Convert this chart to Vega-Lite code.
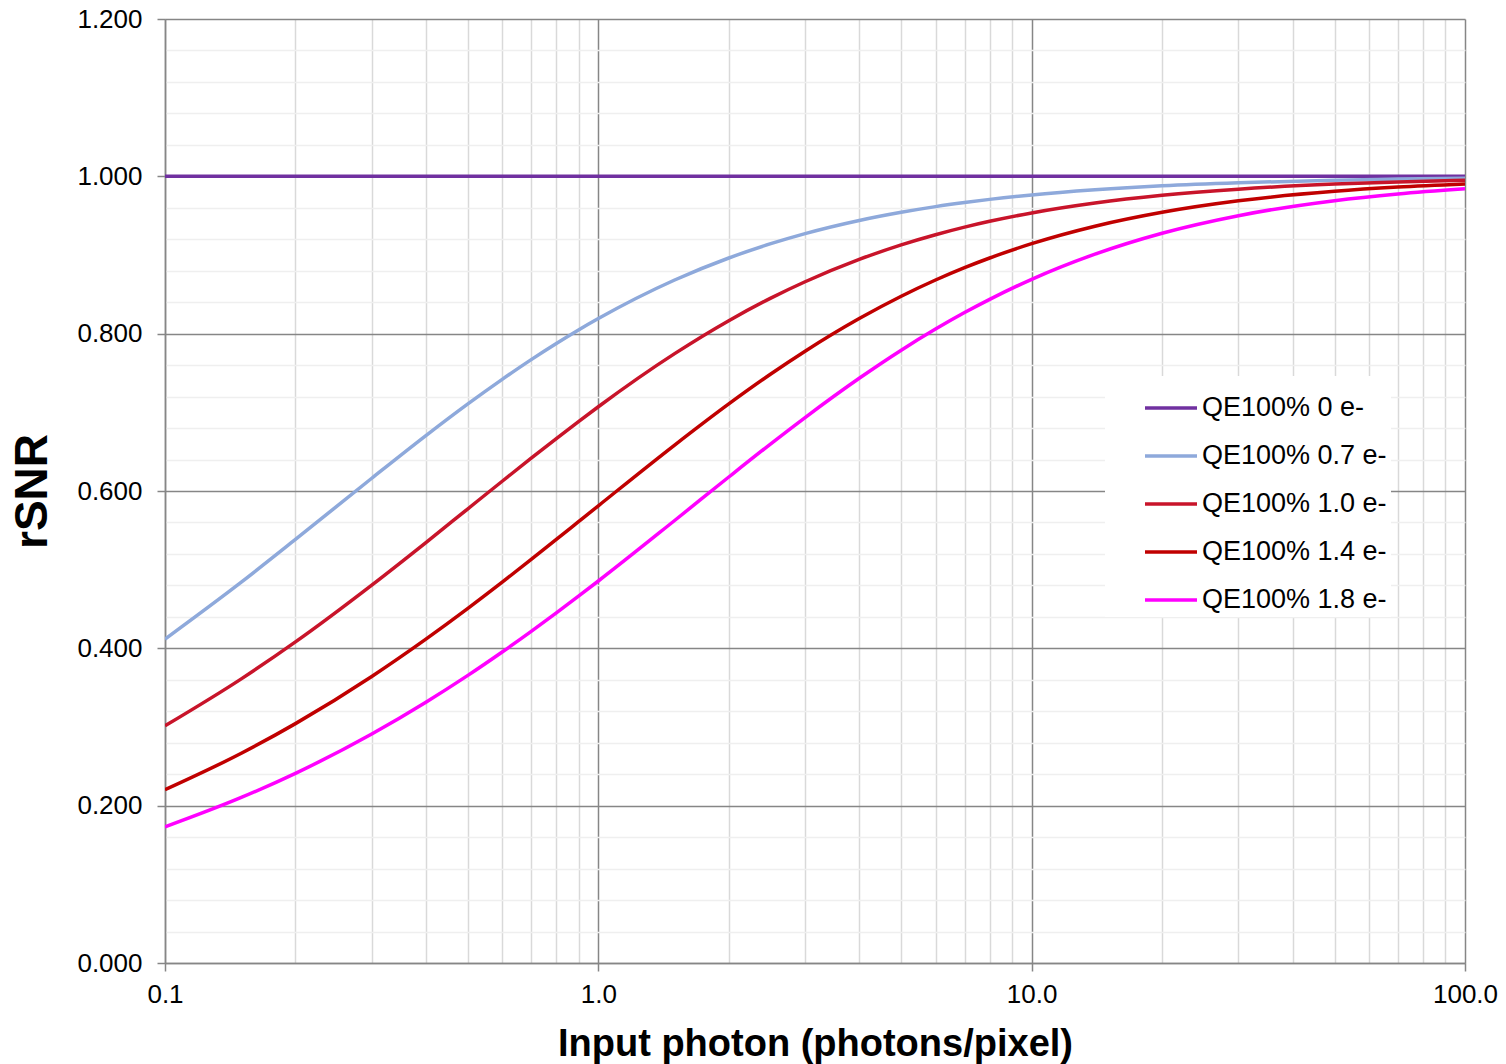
{
  "$schema": "https://vega.github.io/schema/vega-lite/v6.json",
  "autosize": {"type": "none"},
  "width": 1300,
  "height": 944,
  "padding": {"left": 165, "top": 19, "right": 41, "bottom": 101},
  "background": "white",
  "config": {
    "view": {"stroke": null},
    "font": "Liberation Sans",
    "axis": {"labelFont": "Liberation Sans", "titleFont": "Liberation Sans", "labelColor": "black", "titleColor": "black"}
  },
  "data": {
    "values": [
      {"x": 0.1, "s": "QE100% 0 e-", "y": 1.0},
      {"x": 1, "s": "QE100% 0 e-", "y": 1.0},
      {"x": 10, "s": "QE100% 0 e-", "y": 1.0},
      {"x": 100, "s": "QE100% 0 e-", "y": 1.0},

      {"x": 0.1, "s": "QE100% 0.7 e-", "y": 0.4117},
      {"x": 0.15, "s": "QE100% 0.7 e-", "y": 0.4841},
      {"x": 0.2, "s": "QE100% 0.7 e-", "y": 0.5384},
      {"x": 0.3, "s": "QE100% 0.7 e-", "y": 0.6162},
      {"x": 0.4, "s": "QE100% 0.7 e-", "y": 0.6704},
      {"x": 0.5, "s": "QE100% 0.7 e-", "y": 0.7107},
      {"x": 0.6, "s": "QE100% 0.7 e-", "y": 0.7419},
      {"x": 0.7, "s": "QE100% 0.7 e-", "y": 0.767},
      {"x": 0.8, "s": "QE100% 0.7 e-", "y": 0.7875},
      {"x": 0.9, "s": "QE100% 0.7 e-", "y": 0.8047},
      {"x": 1, "s": "QE100% 0.7 e-", "y": 0.8192},
      {"x": 1.5, "s": "QE100% 0.7 e-", "y": 0.8682},
      {"x": 2, "s": "QE100% 0.7 e-", "y": 0.8962},
      {"x": 2.5, "s": "QE100% 0.7 e-", "y": 0.9144},
      {"x": 3, "s": "QE100% 0.7 e-", "y": 0.9272},
      {"x": 4, "s": "QE100% 0.7 e-", "y": 0.9439},
      {"x": 5, "s": "QE100% 0.7 e-", "y": 0.9543},
      {"x": 6, "s": "QE100% 0.7 e-", "y": 0.9615},
      {"x": 7, "s": "QE100% 0.7 e-", "y": 0.9667},
      {"x": 8, "s": "QE100% 0.7 e-", "y": 0.9707},
      {"x": 10, "s": "QE100% 0.7 e-", "y": 0.9764},
      {"x": 14, "s": "QE100% 0.7 e-", "y": 0.9829},
      {"x": 20, "s": "QE100% 0.7 e-", "y": 0.988},
      {"x": 30, "s": "QE100% 0.7 e-", "y": 0.9919},
      {"x": 50, "s": "QE100% 0.7 e-", "y": 0.9951},
      {"x": 70, "s": "QE100% 0.7 e-", "y": 0.9965},
      {"x": 100, "s": "QE100% 0.7 e-", "y": 0.9976},

      {"x": 0.1, "s": "QE100% 1.0 e-", "y": 0.3015},
      {"x": 0.15, "s": "QE100% 1.0 e-", "y": 0.3612},
      {"x": 0.2, "s": "QE100% 1.0 e-", "y": 0.4082},
      {"x": 0.3, "s": "QE100% 1.0 e-", "y": 0.4804},
      {"x": 0.4, "s": "QE100% 1.0 e-", "y": 0.5345},
      {"x": 0.5, "s": "QE100% 1.0 e-", "y": 0.5774},
      {"x": 0.6, "s": "QE100% 1.0 e-", "y": 0.6124},
      {"x": 0.7, "s": "QE100% 1.0 e-", "y": 0.6417},
      {"x": 0.8, "s": "QE100% 1.0 e-", "y": 0.6667},
      {"x": 0.9, "s": "QE100% 1.0 e-", "y": 0.6882},
      {"x": 1, "s": "QE100% 1.0 e-", "y": 0.7071},
      {"x": 1.5, "s": "QE100% 1.0 e-", "y": 0.7746},
      {"x": 2, "s": "QE100% 1.0 e-", "y": 0.8165},
      {"x": 2.5, "s": "QE100% 1.0 e-", "y": 0.8452},
      {"x": 3, "s": "QE100% 1.0 e-", "y": 0.866},
      {"x": 4, "s": "QE100% 1.0 e-", "y": 0.8944},
      {"x": 5, "s": "QE100% 1.0 e-", "y": 0.9129},
      {"x": 6, "s": "QE100% 1.0 e-", "y": 0.9258},
      {"x": 7, "s": "QE100% 1.0 e-", "y": 0.9354},
      {"x": 8, "s": "QE100% 1.0 e-", "y": 0.9428},
      {"x": 10, "s": "QE100% 1.0 e-", "y": 0.9535},
      {"x": 14, "s": "QE100% 1.0 e-", "y": 0.9661},
      {"x": 20, "s": "QE100% 1.0 e-", "y": 0.9759},
      {"x": 30, "s": "QE100% 1.0 e-", "y": 0.9837},
      {"x": 50, "s": "QE100% 1.0 e-", "y": 0.9901},
      {"x": 70, "s": "QE100% 1.0 e-", "y": 0.9929},
      {"x": 100, "s": "QE100% 1.0 e-", "y": 0.995},

      {"x": 0.1, "s": "QE100% 1.4 e-", "y": 0.2203},
      {"x": 0.15, "s": "QE100% 1.4 e-", "y": 0.2666},
      {"x": 0.2, "s": "QE100% 1.4 e-", "y": 0.3043},
      {"x": 0.3, "s": "QE100% 1.4 e-", "y": 0.3643},
      {"x": 0.4, "s": "QE100% 1.4 e-", "y": 0.4117},
      {"x": 0.5, "s": "QE100% 1.4 e-", "y": 0.4508},
      {"x": 0.6, "s": "QE100% 1.4 e-", "y": 0.4841},
      {"x": 0.7, "s": "QE100% 1.4 e-", "y": 0.513},
      {"x": 0.8, "s": "QE100% 1.4 e-", "y": 0.5384},
      {"x": 0.9, "s": "QE100% 1.4 e-", "y": 0.561},
      {"x": 1, "s": "QE100% 1.4 e-", "y": 0.5812},
      {"x": 1.5, "s": "QE100% 1.4 e-", "y": 0.6584},
      {"x": 2, "s": "QE100% 1.4 e-", "y": 0.7107},
      {"x": 2.5, "s": "QE100% 1.4 e-", "y": 0.7487},
      {"x": 3, "s": "QE100% 1.4 e-", "y": 0.7777},
      {"x": 4, "s": "QE100% 1.4 e-", "y": 0.8192},
      {"x": 5, "s": "QE100% 1.4 e-", "y": 0.8476},
      {"x": 6, "s": "QE100% 1.4 e-", "y": 0.8682},
      {"x": 7, "s": "QE100% 1.4 e-", "y": 0.8839},
      {"x": 8, "s": "QE100% 1.4 e-", "y": 0.8962},
      {"x": 10, "s": "QE100% 1.4 e-", "y": 0.9144},
      {"x": 14, "s": "QE100% 1.4 e-", "y": 0.9366},
      {"x": 20, "s": "QE100% 1.4 e-", "y": 0.9543},
      {"x": 30, "s": "QE100% 1.4 e-", "y": 0.9689},
      {"x": 50, "s": "QE100% 1.4 e-", "y": 0.981},
      {"x": 70, "s": "QE100% 1.4 e-", "y": 0.9863},
      {"x": 100, "s": "QE100% 1.4 e-", "y": 0.9903},

      {"x": 0.1, "s": "QE100% 1.8 e-", "y": 0.173},
      {"x": 0.15, "s": "QE100% 1.8 e-", "y": 0.2104},
      {"x": 0.2, "s": "QE100% 1.8 e-", "y": 0.2411},
      {"x": 0.3, "s": "QE100% 1.8 e-", "y": 0.2911},
      {"x": 0.4, "s": "QE100% 1.8 e-", "y": 0.3315},
      {"x": 0.5, "s": "QE100% 1.8 e-", "y": 0.3656},
      {"x": 0.6, "s": "QE100% 1.8 e-", "y": 0.3953},
      {"x": 0.7, "s": "QE100% 1.8 e-", "y": 0.4215},
      {"x": 0.8, "s": "QE100% 1.8 e-", "y": 0.445},
      {"x": 0.9, "s": "QE100% 1.8 e-", "y": 0.4663},
      {"x": 1, "s": "QE100% 1.8 e-", "y": 0.4856},
      {"x": 1.5, "s": "QE100% 1.8 e-", "y": 0.5625},
      {"x": 2, "s": "QE100% 1.8 e-", "y": 0.6178},
      {"x": 2.5, "s": "QE100% 1.8 e-", "y": 0.66},
      {"x": 3, "s": "QE100% 1.8 e-", "y": 0.6934},
      {"x": 4, "s": "QE100% 1.8 e-", "y": 0.7433},
      {"x": 5, "s": "QE100% 1.8 e-", "y": 0.779},
      {"x": 6, "s": "QE100% 1.8 e-", "y": 0.8058},
      {"x": 7, "s": "QE100% 1.8 e-", "y": 0.8268},
      {"x": 8, "s": "QE100% 1.8 e-", "y": 0.8436},
      {"x": 10, "s": "QE100% 1.8 e-", "y": 0.8691},
      {"x": 14, "s": "QE100% 1.8 e-", "y": 0.9011},
      {"x": 20, "s": "QE100% 1.8 e-", "y": 0.9277},
      {"x": 30, "s": "QE100% 1.8 e-", "y": 0.95},
      {"x": 50, "s": "QE100% 1.8 e-", "y": 0.9691},
      {"x": 70, "s": "QE100% 1.8 e-", "y": 0.9776},
      {"x": 100, "s": "QE100% 1.8 e-", "y": 0.9842}
    ]
  },
  "mark": {"type": "line", "strokeWidth": 3.5, "clip": true, "interpolate": "monotone"},
  "encoding": {
    "x": {
      "field": "x",
      "type": "quantitative",
      "scale": {"type": "log", "domain": [0.1, 100], "nice": false},
      "axis": {
        "title": "Input photon (photons/pixel)",
        "titleFontSize": 38,
        "titleFontWeight": "bold",
        "titlePadding": 18,
        "values": [0.1, 0.2, 0.3, 0.4, 0.5, 0.6, 0.7, 0.8, 0.9, 1, 2, 3, 4, 5, 6, 7, 8, 9, 10, 20, 30, 40, 50, 60, 70, 80, 90, 100],
        "labelExpr": "abs(log(datum.value)/LN10 - round(log(datum.value)/LN10)) < 0.001 ? format(datum.value, '.1f') : ''",
        "labelFontSize": 26,
        "labelPadding": 10,
        "labelFlush": false,
        "labelOverlap": false,
        "domainColor": "#868686",
        "domainWidth": 1.5,
        "tickSize": 8,
        "tickWidth": 1.5,
        "tickColor": {"condition": {"test": "abs(log(datum.value)/LN10 - round(log(datum.value)/LN10)) < 0.001", "value": "#868686"}, "value": "rgba(0,0,0,0)"},
        "grid": true,
        "gridColor": {"condition": {"test": "abs(log(datum.value)/LN10 - round(log(datum.value)/LN10)) < 0.001", "value": "#868686"}, "value": "#d9d9d9"},
        "gridWidth": 1.5
      }
    },
    "y": {
      "field": "y",
      "type": "quantitative",
      "scale": {"domain": [0, 1.2], "nice": false},
      "axis": {
        "title": "rSNR",
        "titleFontSize": 46,
        "titleFontWeight": "bold",
        "titlePadding": 20,
        "values": [0, 0.04, 0.08, 0.12, 0.16, 0.2, 0.24, 0.28, 0.32, 0.36, 0.4, 0.44, 0.48, 0.52, 0.56, 0.6, 0.64, 0.68, 0.72, 0.76, 0.8, 0.84, 0.88, 0.92, 0.96, 1.0, 1.04, 1.08, 1.12, 1.16, 1.2],
        "labelExpr": "abs(datum.value*5 - round(datum.value*5)) < 0.001 ? format(datum.value, '.3f') : ''",
        "labelFontSize": 26,
        "labelPadding": 15,
        "labelFlush": false,
        "labelOverlap": false,
        "domainColor": "#868686",
        "domainWidth": 1.5,
        "tickSize": 8,
        "tickWidth": 1.5,
        "tickColor": {"condition": {"test": "abs(datum.value*5 - round(datum.value*5)) < 0.001", "value": "#868686"}, "value": "rgba(0,0,0,0)"},
        "grid": true,
        "gridColor": {"condition": {"test": "abs(datum.value*5 - round(datum.value*5)) < 0.001", "value": "#868686"}, "value": "#efefef"},
        "gridWidth": 1.5
      }
    },
    "color": {
      "field": "s",
      "type": "nominal",
      "sort": ["QE100% 0 e-", "QE100% 0.7 e-", "QE100% 1.0 e-", "QE100% 1.4 e-", "QE100% 1.8 e-"],
      "scale": {
        "domain": ["QE100% 0 e-", "QE100% 0.7 e-", "QE100% 1.0 e-", "QE100% 1.4 e-", "QE100% 1.8 e-"],
        "range": ["#7030A0", "#8EA9DB", "#C8142A", "#C00000", "#FF00FF"]
      },
      "legend": {
        "title": null,
        "orient": "none",
        "legendX": 940,
        "legendY": 357,
        "padding": 4,
        "symbolOffset": 34,
        "fillColor": "white",
        "symbolType": "stroke",
        "symbolSize": 2704,
        "symbolStrokeWidth": 3.5,
        "labelFontSize": 27,
        "labelFont": "Liberation Sans",
        "labelColor": "black",
        "labelOffset": 3,
        "rowPadding": 7,
        "labelLimit": 400
      }
    }
  }
}
